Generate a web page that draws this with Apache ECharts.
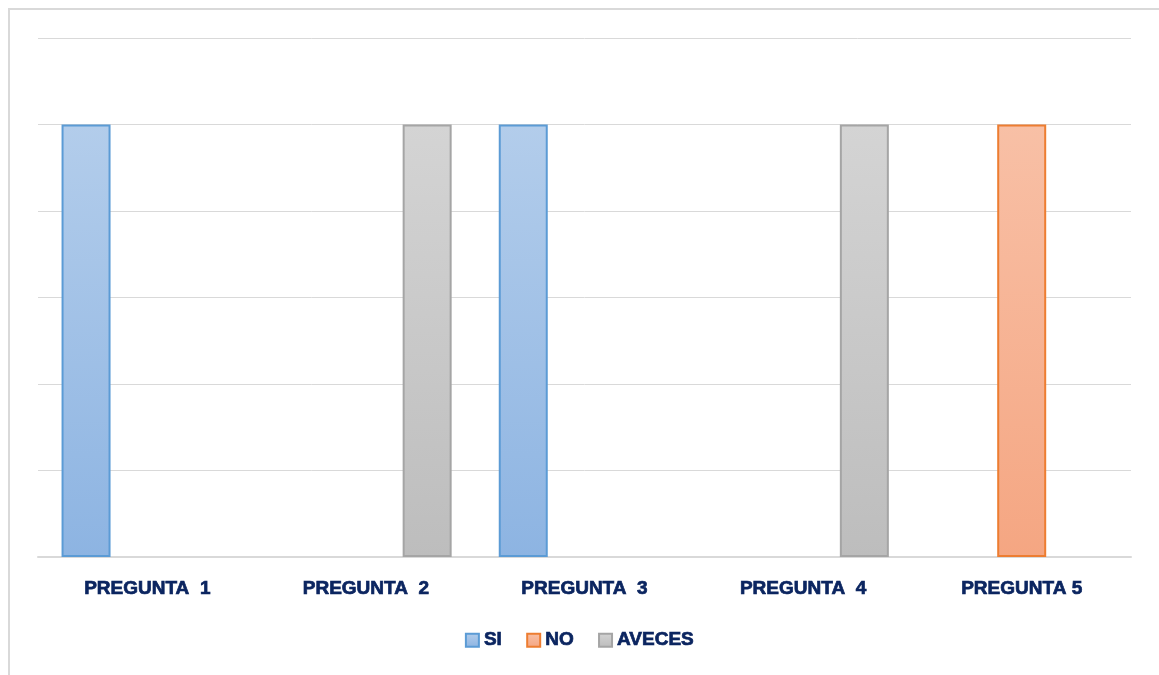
<!DOCTYPE html>
<html>
<head>
<meta charset="utf-8">
<script src="https://cdn.jsdelivr.net/npm/echarts@6/dist/echarts.min.js"></script>
<style>
    html, body { margin: 0; padding: 0; background: #fff; }
    #chart { width: 1159px; height: 675px; }
</style>
</head>
<body>
<div id="chart"></div>
<script>
// categorias y valores
var categorias = ['PREGUNTA  1', 'PREGUNTA  2', 'PREGUNTA  3', 'PREGUNTA  4', 'PREGUNTA 5'];
var valoresSi = [5, null, 5, null, null];
var valoresNo = [null, null, null, null, 5];
var valoresAveces = [null, 5, null, 5, null];

function degradado(arriba, abajo) {
    return new echarts.graphic.LinearGradient(0, 0, 0, 1, [
        {offset: 0, color: arriba},
        {offset: 1, color: abajo}
    ]);
}

var azulTexto = '#0b2560';

var myChart = echarts.init(document.getElementById('chart'));

var option = {
    animation: false,
    graphic: [{
        type: 'rect',
        shape: {x: 9, y: 9, width: 1200, height: 700},
        style: {fill: 'none', stroke: '#d9d9d9', lineWidth: 2},
        silent: true
    }],
    grid: {
        left: 38,
        right: 28,
        top: 38,
        bottom: 118
    },
    legend: {
        bottom: 20,
        left: 'center',
        icon: 'rect',
        itemWidth: 13,
        itemHeight: 13,
        itemGap: 24,
        textStyle: {
            color: azulTexto,
            fontSize: 19,
            fontWeight: 'bold',
            fontFamily: 'Liberation Sans',
            textBorderColor: azulTexto,
            textBorderWidth: 0.7
        },
        data: ['SI', 'NO', 'AVECES']
    },
    xAxis: {
        type: 'category',
        data: categorias,
        axisLine: {lineStyle: {color: '#d9d9d9', width: 2}},
        axisTick: {show: false},
        axisLabel: {
            margin: 22,
            color: azulTexto,
            fontSize: 19,
            fontWeight: 'bold',
            fontFamily: 'Liberation Sans',
            textBorderColor: azulTexto,
            textBorderWidth: 0.7
        }
    },
    yAxis: {
        type: 'value',
        min: 0,
        max: 6,
        interval: 1,
        axisLabel: {show: false},
        axisLine: {show: false},
        axisTick: {show: false},
        splitLine: {lineStyle: {color: '#d9d9d9', width: 1}}
    },
    series: [
        {
            name: 'SI',
            type: 'bar',
            barWidth: 49,
            barGap: '25%',
            data: valoresSi,
            itemStyle: {
                color: degradado('#b3cdeb', '#8db4e2'),
                borderColor: '#5b9bd5',
                borderWidth: 2
            }
        },
        {
            name: 'NO',
            type: 'bar',
            barWidth: 49,
            barGap: '25%',
            data: valoresNo,
            itemStyle: {
                color: degradado('#f8c0a6', '#f5a682'),
                borderColor: '#ed7d31',
                borderWidth: 2
            }
        },
        {
            name: 'AVECES',
            type: 'bar',
            barWidth: 49,
            barGap: '25%',
            data: valoresAveces,
            itemStyle: {
                color: degradado('#d4d4d4', '#bdbdbd'),
                borderColor: '#a5a5a5',
                borderWidth: 2
            }
        }
    ]
};

myChart.setOption(option);
</script>
</body>
</html>
